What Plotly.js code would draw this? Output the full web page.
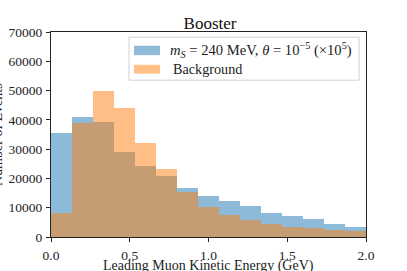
<!DOCTYPE html>
<html>
<head>
<meta charset="utf-8">
<script src="https://cdn.plot.ly/plotly-3.0.1.min.js"></script>
<style>html,body{margin:0;padding:0;background:#fff;}#chart{width:407px;height:271px;}</style>
</head>
<body>
<div id="chart"></div>
<script>
// Bin layout: 15 equal bins from 0 to 2 GeV
const binCount = 15;
const xMin = 0, xMax = 2.0;
// Signal: m_S = 240 MeV, theta = 1e-5 (x1e5)
const signalCounts = [35500, 40900, 39100, 29100, 24100, 21000, 16800, 14100, 12300, 10600, 8300, 7300, 6000, 4400, 3500];
// Background
const backgroundCounts = [8300, 38800, 49700, 44000, 32000, 23300, 15500, 10400, 7500, 5900, 4400, 3500, 3200, 2500, 2000];
const signalLabel = '<i>m</i><sub><i>S</i></sub> = 240 MeV, <i>θ</i> = 10<sup>−5</sup> (×10<sup>5</sup>)';
const backgroundLabel = 'Background';
const xTitle = 'Leading Muon Kinetic Energy (GeV)';
const yTitle = 'Number of Events';
const xTicks = [0.0, 0.5, 1.0, 1.5, 2.0];
const yTicks = [0, 10000, 20000, 30000, 40000, 50000, 60000, 70000];

const binWidth = (xMax - xMin) / binCount;
const binCenters = signalCounts.map((_, i) => xMin + binWidth * (i + 0.5));

const font = 'Liberation Serif, Times New Roman, serif';
const blue = '#1f77b4', orange = '#ff7f0e';

const traces = [
  {type: 'bar', x: binCenters, y: signalCounts, width: binWidth, name: 'signal',
   marker: {color: blue, line: {width: 0}}, opacity: 0.5, showlegend: false, hoverinfo: 'skip'},
  {type: 'bar', x: binCenters, y: backgroundCounts, width: binWidth, name: 'background',
   marker: {color: orange, line: {width: 0}}, opacity: 0.5, showlegend: false, hoverinfo: 'skip'}
];

const axisCommon = {
  showline: true, mirror: true, linecolor: '#222', linewidth: 1,
  ticks: 'outside', ticklen: 4, tickwidth: 1, tickcolor: '#222',
  showgrid: false, zeroline: false,
  tickfont: {family: font, size: 13.5, color: '#222'}
};

const layout = {
  width: 407, height: 271,
  margin: {l: 51, r: 41, t: 32, b: 34},
  paper_bgcolor: '#fff', plot_bgcolor: '#fff',
  barmode: 'overlay', bargap: 0,
  title: {text: 'Booster', font: {family: font, size: 17, color: '#111'}, x: 0.516, xanchor: 'center', y: 0.915, yanchor: 'middle'},
  xaxis: Object.assign({}, axisCommon, {
    range: [xMin, xMax], tickvals: xTicks, ticktext: xTicks.map(v => v.toFixed(1)),
    ticklabelstandoff: 2
  }),
  yaxis: Object.assign({}, axisCommon, {
    range: [0, 70000], tickvals: yTicks, ticktext: yTicks.map(v => String(v)),
    ticklabelstandoff: 1
  }),
  shapes: [
    {type: 'rect', xref: 'paper', yref: 'paper', x0: 0.2476, x1: 0.978, y0: 0.765, y1: 0.975,
     line: {color: '#d0d0d0', width: 1}, fillcolor: 'rgba(255,255,255,0.8)', layer: 'above'},
    {type: 'rect', xref: 'paper', yref: 'paper', x0: 0.2635, x1: 0.346, y0: 0.887, y1: 0.933,
     line: {width: 0}, fillcolor: '#8fbbd9', layer: 'above'},
    {type: 'rect', xref: 'paper', yref: 'paper', x0: 0.2635, x1: 0.346, y0: 0.797, y1: 0.840,
     line: {width: 0}, fillcolor: '#ffbf86', layer: 'above'}
  ],
  annotations: [
    {xref: 'paper', yref: 'paper', x: 0.373, y: 0.912, xanchor: 'left', yanchor: 'middle', showarrow: false,
     text: signalLabel, font: {family: font, size: 14.6, color: '#222'}},
    {xref: 'paper', yref: 'paper', x: 0.381, y: 0.819, xanchor: 'left', yanchor: 'middle', showarrow: false,
     text: backgroundLabel, font: {family: font, size: 14.2, color: '#222'}},
    {xref: 'paper', yref: 'paper', x: 0.5, y: -0.142, xanchor: 'center', yanchor: 'middle', showarrow: false,
     text: xTitle, font: {family: font, size: 14, color: '#222'}},
    {xref: 'paper', yref: 'paper', x: -0.1397, y: 0.5, xanchor: 'right', yanchor: 'middle', showarrow: false,
     textangle: -90, text: yTitle, font: {family: font, size: 14, color: '#222'}}
  ]
};

Plotly.newPlot('chart', traces, layout, {staticPlot: true, displayModeBar: false});
</script>
</body>
</html>
